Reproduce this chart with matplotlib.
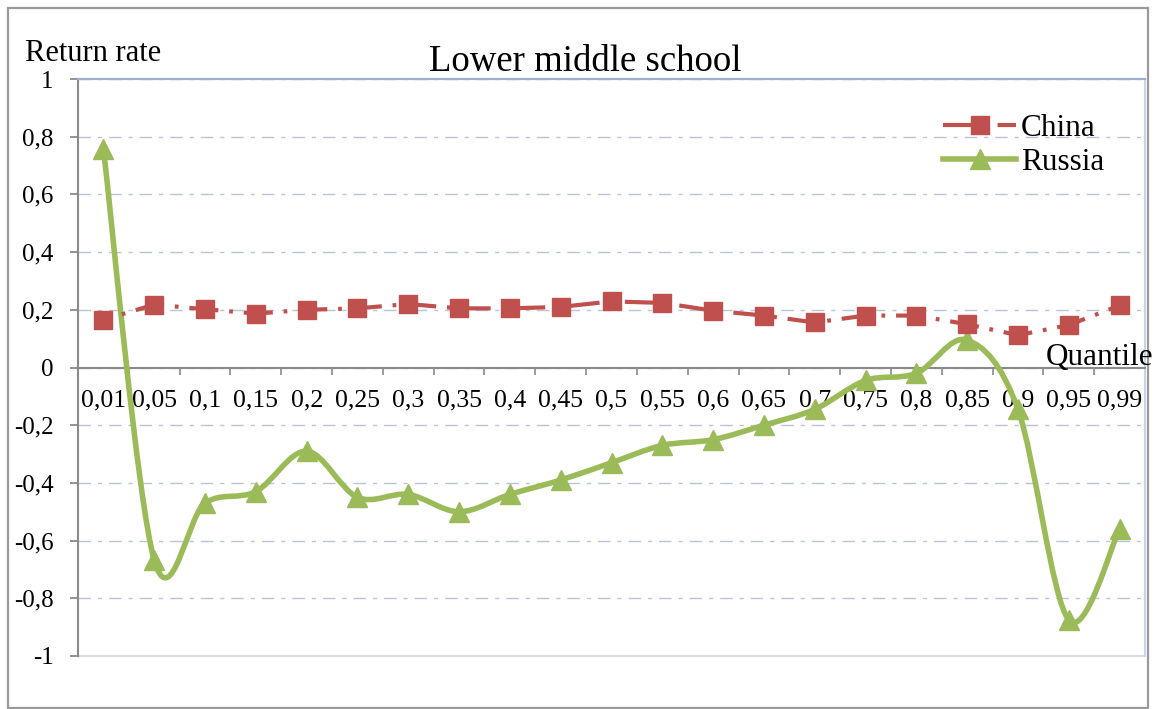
import matplotlib.pyplot as plt
import numpy as np
from matplotlib.path import Path
from matplotlib.patches import PathPatch, Rectangle
from matplotlib.lines import Line2D

quantiles = ['0,01', '0,05', '0,1', '0,15', '0,2', '0,25', '0,3', '0,35', '0,4', '0,45',
             '0,5', '0,55', '0,6', '0,65', '0,7', '0,75', '0,8', '0,85', '0,9', '0,95', '0,99']
china = [0.165, 0.218, 0.202, 0.187, 0.200, 0.205, 0.220, 0.205, 0.205, 0.210,
         0.229, 0.224, 0.197, 0.180, 0.156, 0.180, 0.180, 0.150, 0.112, 0.147, 0.215]
russia = [0.757, -0.667, -0.47, -0.43, -0.29, -0.45, -0.44, -0.50, -0.44, -0.39,
          -0.33, -0.27, -0.25, -0.20, -0.145, -0.045, -0.02, 0.095, -0.145, -0.875, -0.56]

yticks = [1, 0.8, 0.6, 0.4, 0.2, 0, -0.2, -0.4, -0.6, -0.8, -1]
ytick_labels = ['1', '0,8', '0,6', '0,4', '0,2', '0', '-0,2', '-0,4', '-0,6', '-0,8', '-1']

RED = '#C0504D'
GREEN = '#9BBB59'
GRAY = '#8A8A8A'
SERIF = 'Liberation Serif'
W, H = 1154, 709

# long dash - dot, in units of line width
CHINA_LW = 3.0
CHINA_DASH = (5.0, (7, 2.6, 0.9, 2.6))


def smooth_path(xs, ys):
    """Smoothed line: cubic Bezier segments through every point."""
    pts = np.column_stack([xs, ys]).astype(float)
    n = len(pts)
    verts = [pts[0]]
    codes = [Path.MOVETO]
    for i in range(n - 1):
        p0 = pts[i - 1] if i > 0 else pts[i]
        p1 = pts[i]
        p2 = pts[i + 1]
        p3 = pts[i + 2] if i + 2 < n else pts[i + 1]
        verts += [p1 + (p2 - p0) / 6, p2 - (p3 - p1) / 6, p2]
        codes += [Path.CURVE4] * 3
    return Path(verts, codes)


fig = plt.figure(figsize=(W / 100, H / 100), dpi=100)
ax = fig.add_axes([78 / W, 1 - 656 / H, 1067 / W, 577 / H])

x = np.arange(len(quantiles))

ax.set_ylim(-1, 1)
ax.set_xlim(-0.5, len(quantiles) - 0.5)
ax.set_yticks(yticks)
ax.set_yticklabels(ytick_labels, family=SERIF, fontsize=18)
ax.yaxis.grid(True, color='#BAC4D8', lw=1.0, linestyle=(0, (9, 5, 3, 5)))
ax.set_axisbelow(True)

# China
ax.plot(x, china, color=RED, lw=CHINA_LW, linestyle=CHINA_DASH,
        dash_capstyle='butt', marker='s', markersize=12.5, zorder=4)

# Russia
ax.add_patch(PathPatch(smooth_path(x, russia), facecolor='none', edgecolor=GREEN,
                       lw=4.0, capstyle='round', joinstyle='round', zorder=3))
ax.plot(x, russia, linestyle='none', marker='^', markersize=14, color=GREEN, zorder=3)

# frame
ax.spines['left'].set_color(GRAY)
ax.spines['left'].set_linewidth(1.5)
ax.spines['bottom'].set_position(('data', 0))
ax.spines['bottom'].set_color(GRAY)
ax.spines['bottom'].set_linewidth(1.5)
ax.spines['top'].set_color('#9EAFD2')
ax.spines['top'].set_linewidth(1.6)
ax.spines['right'].set_color('#C9D5EA')
ax.spines['right'].set_linewidth(1.5)
ax.axhline(-1, color='#DADDE8', lw=1.5, zorder=1, clip_on=False)

ax.tick_params(axis='y', direction='out', length=6, width=1.3, color=GRAY, pad=11.5)
ax.set_xticks(np.arange(len(quantiles) + 1) - 0.5)
ax.set_xticklabels([])
ax.tick_params(axis='x', which='major', direction='out', length=5, width=1.2, color=GRAY)
ax.set_xticks(x, minor=True)
ax.set_xticklabels(quantiles, minor=True, family=SERIF, fontsize=18.5)
ax.tick_params(axis='x', which='minor', length=0, pad=16)

# legend
handles = [Line2D([0], [0], color=RED, lw=CHINA_LW, linestyle=(0, (7, 2.6, 0.9, 2.6)),
                  marker='s', markersize=12.5),
           Line2D([0], [0], color=GREEN, lw=4.0, marker='^', markersize=14)]
fig.legend(handles, ['China', 'Russia'], loc='upper left',
           bbox_to_anchor=(943 / W, 1 - 114 / H), frameon=False,
           prop={'family': SERIF, 'size': 22.5}, handlelength=2.35,
           handletextpad=0.15, labelspacing=0.15, borderpad=0, borderaxespad=0)

# texts
fig.text(585 / W, 1 - 71 / H, 'Lower middle school', ha='center', va='baseline',
         family=SERIF, fontsize=26.5)
fig.text(25 / W, 1 - 61 / H, 'Return rate', ha='left', va='baseline',
         family=SERIF, fontsize=22)
fig.text(1153 / W, 1 - 365 / H, 'Quantile', ha='right', va='baseline',
         family=SERIF, fontsize=22.5)

# outer frame
fig.patches.append(Rectangle((8 / W, 1 / H), 1140 / W, 700 / H,
                             transform=fig.transFigure, fill=False,
                             edgecolor='#9A9A9A', lw=1.6))

fig.savefig('out.png', dpi=100)
